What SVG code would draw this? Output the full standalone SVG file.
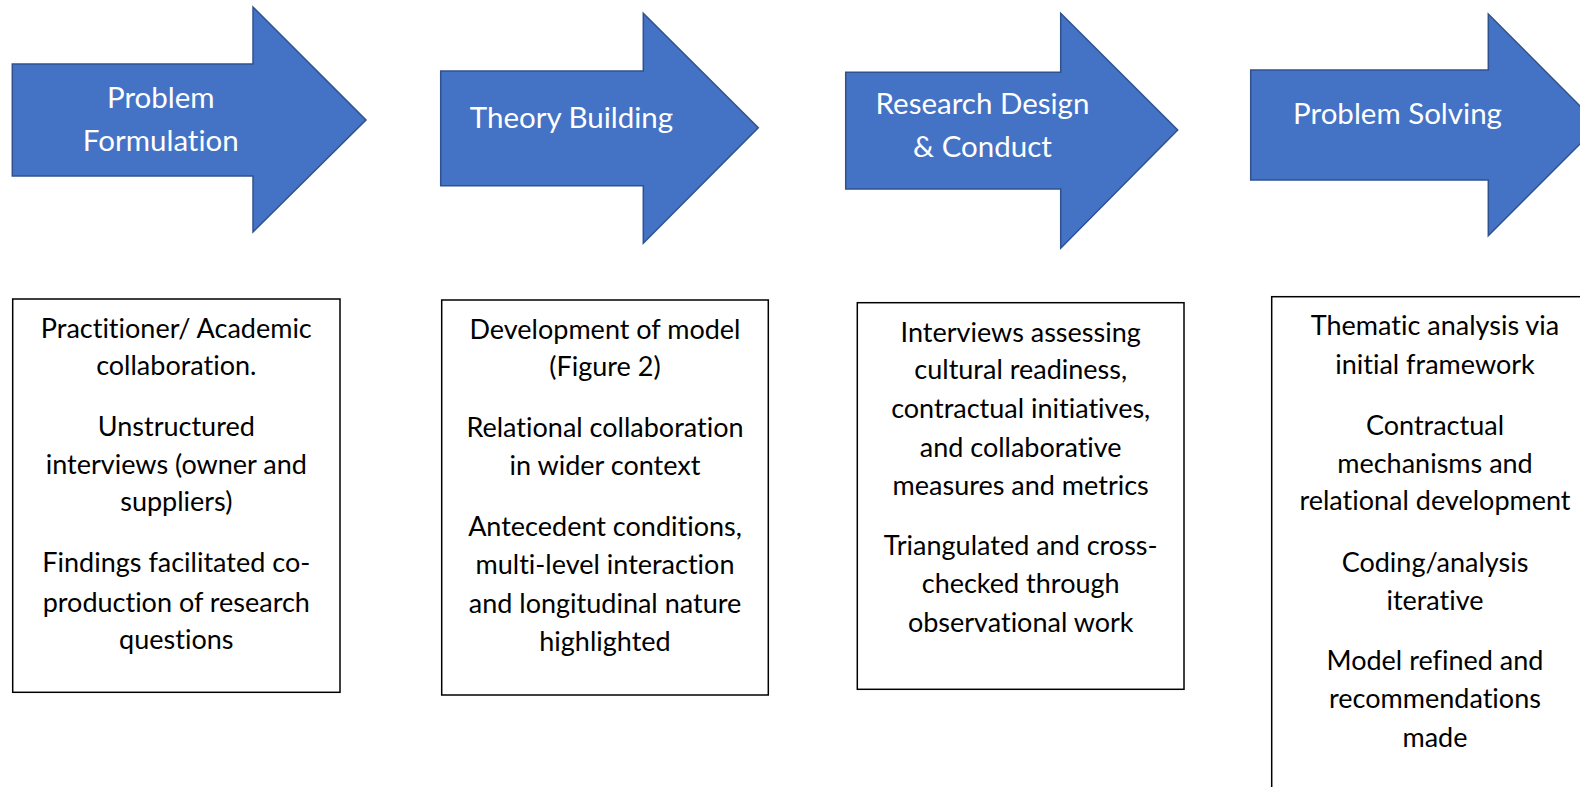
<svg xmlns="http://www.w3.org/2000/svg" width="1580" height="787" viewBox="0 0 1580 787">
  <style>
    .arrow { fill: #4472C4; stroke: #2F528F; stroke-width: 1.5; stroke-linejoin: miter; }
    .box { fill: #FFFFFF; stroke: #000000; stroke-width: 1.5; }
    text { font-variant-ligatures: none; font-feature-settings: "liga" 0, "clig" 0; }
    .head { font-family: Lato, "Liberation Sans", sans-serif; font-size: 29.5px; fill: #FFFFFF; text-anchor: middle; }
    .body { font-family: Lato, "Liberation Sans", sans-serif; font-size: 27px; fill: #000000; text-anchor: middle; }
  </style>
  <rect width="1580" height="787" fill="#FFFFFF"/>

  <!-- Stage arrows -->
  <g id="stage-problem-formulation">
    <polygon class="arrow" points="12.3,64 253,64 253,7 366,120 253,232 253,176 12.3,176"/>
    <text class="head" x="160.8" y="108.3">Problem</text>
    <text class="head" x="160.8" y="150.7">Formulation</text>
  </g>
  <g id="stage-theory-building">
    <polygon class="arrow" points="440.7,71 643.3,71 643.3,13.3 758.3,127.7 643.3,243.3 643.3,185.7 440.7,185.7"/>
    <text class="head" x="571.5" y="127.7">Theory Building</text>
  </g>
  <g id="stage-research-design">
    <polygon class="arrow" points="845.7,72.3 1060.7,72.3 1060.7,13.3 1177.7,130 1060.7,248.3 1060.7,189 845.7,189"/>
    <text class="head" x="982.5" y="114.3">Research Design</text>
    <text class="head" x="982.5" y="156.7">&amp; Conduct</text>
  </g>
  <g id="stage-problem-solving">
    <polygon class="arrow" points="1250.7,70 1488.3,70 1488.3,14 1599,125 1488.3,235.7 1488.3,180 1250.7,180"/>
    <text class="head" x="1397.5" y="124">Problem Solving</text>
  </g>

  <!-- Detail boxes -->
  <g id="detail-problem-formulation">
    <rect class="box" x="12.7" y="299" width="327.3" height="393.3"/>
    <text class="body" x="176.3" y="338.3">Practitioner/ Academic</text>
    <text class="body" x="176.3" y="375">collaboration.</text>
    <text class="body" x="176.3" y="436">Unstructured</text>
    <text class="body" x="176.3" y="474">interviews (owner and</text>
    <text class="body" x="176.3" y="510.7">suppliers)</text>
    <text class="body" x="176.3" y="571.7">Findings facilitated co-</text>
    <text class="body" x="176.3" y="611.7">production of research</text>
    <text class="body" x="176.3" y="649.3">questions</text>
  </g>
  <g id="detail-theory-building">
    <rect class="box" x="441.7" y="300" width="326.6" height="395"/>
    <text class="body" x="605" y="339.3">Development of model</text>
    <text class="body" x="605" y="376">(Figure 2)</text>
    <text class="body" x="605" y="437.3">Relational collaboration</text>
    <text class="body" x="605" y="475">in wider context</text>
    <text class="body" x="605" y="536">Antecedent conditions,</text>
    <text class="body" x="605" y="574">multi-level interaction</text>
    <text class="body" x="605" y="613.3">and longitudinal nature</text>
    <text class="body" x="605" y="650.7">highlighted</text>
  </g>
  <g id="detail-research-design">
    <rect class="box" x="857.3" y="302.7" width="326.7" height="386.6"/>
    <text class="body" x="1020.7" y="341.7">Interviews assessing</text>
    <text class="body" x="1020.7" y="379.3">cultural readiness,</text>
    <text class="body" x="1020.7" y="418.3">contractual initiatives,</text>
    <text class="body" x="1020.7" y="456.7">and collaborative</text>
    <text class="body" x="1020.7" y="495">measures and metrics</text>
    <text class="body" x="1020.7" y="555">Triangulated and cross-</text>
    <text class="body" x="1020.7" y="593.3">checked through</text>
    <text class="body" x="1020.7" y="631.7">observational work</text>
  </g>
  <g id="detail-problem-solving">
    <rect class="box" x="1271.7" y="296.7" width="326" height="520"/>
    <text class="body" x="1435" y="335">Thematic analysis via</text>
    <text class="body" x="1435" y="374">initial framework</text>
    <text class="body" x="1435" y="435">Contractual</text>
    <text class="body" x="1435" y="473.3">mechanisms and</text>
    <text class="body" x="1435" y="510">relational development</text>
    <text class="body" x="1435" y="571.7">Coding/analysis</text>
    <text class="body" x="1435" y="610">iterative</text>
    <text class="body" x="1435" y="670">Model refined and</text>
    <text class="body" x="1435" y="708.3">recommendations</text>
    <text class="body" x="1435" y="746.7">made</text>
  </g>
</svg>
